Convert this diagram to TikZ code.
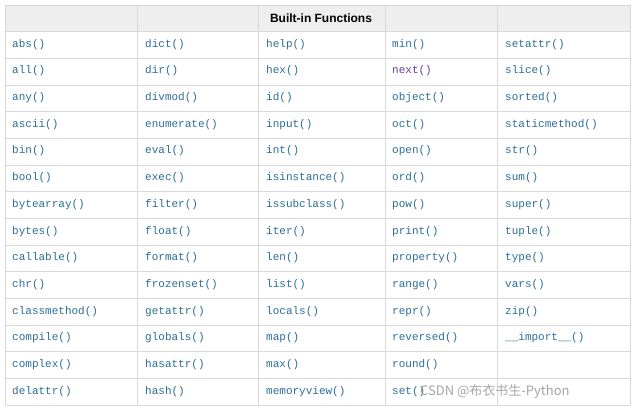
\documentclass[tikz,border=0pt]{standalone}
\usepackage{fontspec}
\setmainfont{Liberation Sans}
\newfontfamily\codefont{Liberation Mono}
\newfontfamily\cjk{Noto Sans CJK SC}
\definecolor{linkc}{HTML}{2B6E98}
\definecolor{visc}{HTML}{6A3D9A}
\definecolor{gridc}{HTML}{D8D8D8}
\definecolor{headc}{HTML}{EEEEEE}
\tikzset{fn/.style={anchor=west,font=\codefont\fontsize{11}{12}\selectfont,text=linkc,inner sep=0pt},
hd/.style={font=\bfseries\fontsize{12}{14}\selectfont,inner sep=0pt}}
\begin{document}
\begin{tikzpicture}[x=1pt,y=-1pt]
\useasboundingbox (0,0) rectangle (642,414);
\fill[white] (0,0) rectangle (642,414);
\fill[headc] (5,5) rectangle (630,31);
\foreach \y in {5,31,58,85,111,138,165,191,218,245,271,298,325,351,378,405}
  \draw[gridc] (5,\y) -- (630,\y);
\foreach \x in {5,137,258,385,497,630}
  \draw[gridc] (\x,5) -- (\x,405);
\node[hd] (title) at (321,18) {Built-in Functions};
\foreach [count=\i] \t in {abs(),all(),any(),ascii(),bin(),bool(),bytearray(),bytes(),callable(),chr(),classmethod(),compile(),complex(),delattr()}
  \node[fn] (a\i) at (12,{31+26.7*(\i-0.5)}) {\t};
\foreach [count=\i] \t in {dict(),dir(),divmod(),enumerate(),eval(),exec(),filter(),float(),format(),frozenset(),getattr(),globals(),hasattr(),hash()}
  \node[fn] (b\i) at (145,{31+26.7*(\i-0.5)}) {\t};
\foreach [count=\i] \t in {help(),hex(),id(),input(),int(),isinstance(),issubclass(),iter(),len(),list(),locals(),map(),max(),memoryview()}
  \node[fn] (c\i) at (266,{31+26.7*(\i-0.5)}) {\t};
\foreach [count=\i] \t in {min(),,object(),oct(),open(),ord(),pow(),print(),property(),range(),repr(),reversed(),round(),set()}
  \node[fn] (d\i) at (392,{31+26.7*(\i-0.5)}) {\t};
\node[fn,text=visc] (nx) at (392,{31+26.7*1.5}) {next()};
\foreach [count=\i] \t in {setattr(),slice(),sorted(),staticmethod(),str(),sum(),super(),tuple(),type(),vars(),zip(),\_\_import\_\_()}
  \node[fn] (e\i) at (505,{31+26.7*(\i-0.5)}) {\t};
\node[anchor=west,inner sep=0pt,text=gray!70,font=\cjk\fontsize{13}{14}\selectfont] (wm) at (420,392) {CSDN @布衣书生-Python};
\end{tikzpicture}
\end{document}
